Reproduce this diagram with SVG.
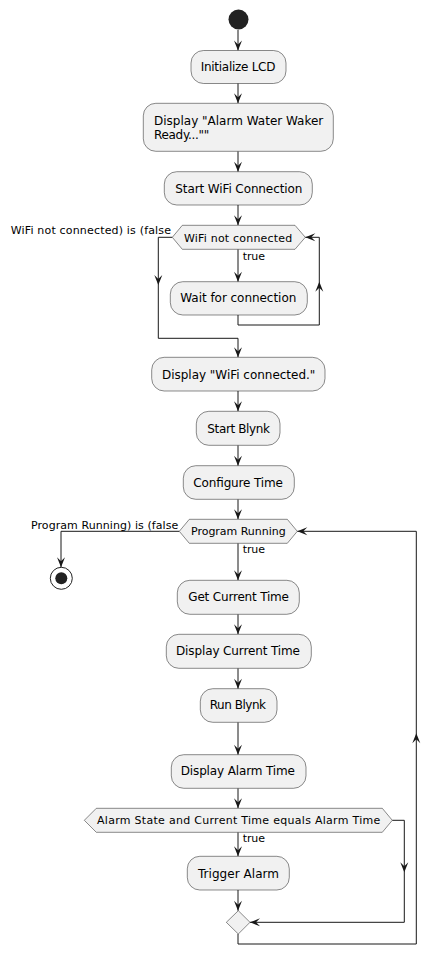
<svg xmlns="http://www.w3.org/2000/svg" xmlns:xlink="http://www.w3.org/1999/xlink" width="441" height="967" viewBox="0 0 441 967">
<style>
.act{fill:#F1F1F1;stroke:#181818;stroke-width:0.5}
.t{font-family:"DejaVu Sans",sans-serif;font-size:12px;fill:#000}
.s{font-family:"DejaVu Sans",sans-serif;font-size:11px;fill:#000}
.ln{fill:none;stroke:#181818;stroke-width:1}
.ah{fill:#181818}
</style>
<defs>
<path id="ah" d="M0,0 L-4,-10 L0,-6 L4,-10 Z"/>
</defs>
<rect width="441" height="967" fill="#FFFFFF"/>
<g id="connectors">
<path class="ln" d="M238,30 V50.5 M238,83 V103.3 M238,151.3 V171.7 M238,205 V225.3 M238,249.3 V281.7"/>
<path class="ln" d="M238,315 V325 H319.3 V237.3 H305.3"/>
<path class="ln" d="M172.3,237.3 H158.3 V338.3 H238 V357.3"/>
<path class="ln" d="M238,391 V411.3 M238,445.3 V465.7 M238,499.3 V519.3 M238,543.3 V580.3"/>
<path class="ln" d="M179.3,531.3 H61 V567.3"/>
<path class="ln" d="M238,614.3 V634.3 M238,668.3 V688.7 M238,722.3 V754.7 M238,788.3 V808.3 M238,832.3 V856.3 M238,890 V910.7"/>
<path class="ln" d="M392.3,820.3 H404.3 V922.3 H250"/>
<path class="ln" d="M238,934 V944 H416.3 V531.3 H297.3"/>
<g class="ah">
<use xlink:href="#ah" transform="translate(238,50.5)"/>
<use xlink:href="#ah" transform="translate(238,103.3)"/>
<use xlink:href="#ah" transform="translate(238,171.7)"/>
<use xlink:href="#ah" transform="translate(238,225.3)"/>
<use xlink:href="#ah" transform="translate(238,281.7)"/>
<use xlink:href="#ah" transform="translate(319.3,281.7) rotate(180)"/>
<use xlink:href="#ah" transform="translate(305.3,237.3) rotate(90)"/>
<use xlink:href="#ah" transform="translate(158.3,285)"/>
<use xlink:href="#ah" transform="translate(238,357.3)"/>
<use xlink:href="#ah" transform="translate(238,411.3)"/>
<use xlink:href="#ah" transform="translate(238,465.7)"/>
<use xlink:href="#ah" transform="translate(238,519.3)"/>
<use xlink:href="#ah" transform="translate(238,580.3)"/>
<use xlink:href="#ah" transform="translate(61,567.3)"/>
<use xlink:href="#ah" transform="translate(238,634.3)"/>
<use xlink:href="#ah" transform="translate(238,688.7)"/>
<use xlink:href="#ah" transform="translate(238,754.7)"/>
<use xlink:href="#ah" transform="translate(238,808.3)"/>
<use xlink:href="#ah" transform="translate(238,856.3)"/>
<use xlink:href="#ah" transform="translate(238,910.7)"/>
<use xlink:href="#ah" transform="translate(404.3,872.3)"/>
<use xlink:href="#ah" transform="translate(250,922.3) rotate(90)"/>
<use xlink:href="#ah" transform="translate(416.3,733.3) rotate(180)"/>
<use xlink:href="#ah" transform="translate(297.3,531.3) rotate(90)"/>
</g>
<text class="s" x="242.7" y="260" textLength="22.3">true</text>
<text class="s" x="10.7" y="234.3" textLength="160.3">WiFi not connected) is (false</text>
<text class="s" x="242.7" y="553.3" textLength="22.3">true</text>
<text class="s" x="31" y="528.7" textLength="147.3">Program Running) is (false</text>
<text class="s" x="242.7" y="841.7" textLength="22.3">true</text>
</g>
<g id="start"><circle cx="238.5" cy="19.5" r="10" fill="#222222"/></g>
<g id="init-lcd"><rect class="act" x="191" y="50.5" width="95" height="33" rx="12.5"/><text class="t" x="200.7" y="71" textLength="74.7">Initialize LCD</text></g>
<g id="display-ready"><rect class="act" x="143.3" y="103.3" width="190" height="48" rx="12.5"/><text class="t" x="154" y="124.7" textLength="169.3">Display "Alarm Water Waker</text><text class="t" x="154" y="139" textLength="55.3">Ready...""</text></g>
<g id="start-wifi"><rect class="act" x="164.3" y="171.7" width="148" height="33.3" rx="12.5"/><text class="t" x="175.3" y="193.3" textLength="127">Start WiFi Connection</text></g>
<g id="while-wifi"><polygon class="act" points="172.3,237.3 182.3,225.3 295,225.3 305.3,237.3 295,249.3 182.3,249.3"/><text class="s" x="184" y="242" textLength="108.3">WiFi not connected</text></g>
<g id="wait-conn"><rect class="act" x="170.3" y="281.7" width="137" height="33.3" rx="12.5"/><text class="t" x="180.3" y="302.3" textLength="116">Wait for connection</text></g>
<g id="display-wifi"><rect class="act" x="151.7" y="357.3" width="173.3" height="33.7" rx="12.5"/><text class="t" x="162" y="379" textLength="153.3">Display "WiFi connected."</text></g>
<g id="start-blynk"><rect class="act" x="196.3" y="411.3" width="83.7" height="34" rx="12.5"/><text class="t" x="207.3" y="433.3" textLength="62.7">Start Blynk</text></g>
<g id="configure-time"><rect class="act" x="183.3" y="465.7" width="111" height="33.6" rx="12.5"/><text class="t" x="193.3" y="487" textLength="89.7">Configure Time</text></g>
<g id="while-running"><polygon class="act" points="179.3,531.3 189.3,519.3 287.3,519.3 297.3,531.3 287.3,543.3 189.3,543.3"/><text class="s" x="191" y="535" textLength="94.7">Program Running</text></g>
<g id="stop"><circle cx="61.3" cy="578.3" r="11" fill="none" stroke="#222222" stroke-width="1"/><circle cx="61.3" cy="578.3" r="6" fill="#222222"/></g>
<g id="get-time"><rect class="act" x="177.3" y="580.3" width="122" height="34" rx="12.5"/><text class="t" x="188.3" y="601" textLength="100.7">Get Current Time</text></g>
<g id="display-time"><rect class="act" x="166.3" y="634.3" width="145" height="34" rx="12.5"/><text class="t" x="176" y="655" textLength="124">Display Current Time</text></g>
<g id="run-blynk"><rect class="act" x="200.3" y="688.7" width="76.7" height="33.6" rx="12.5"/><text class="t" x="209.7" y="708.7" textLength="56.3">Run Blynk</text></g>
<g id="display-alarm"><rect class="act" x="171.3" y="754.7" width="134.7" height="33.6" rx="12.5"/><text class="t" x="180.7" y="775" textLength="114.3">Display Alarm Time</text></g>
<g id="if-alarm"><polygon class="act" points="84.3,820.3 96.3,808.3 382.3,808.3 392.3,820.3 382.3,832.3 96.3,832.3"/><text class="s" x="97" y="824" textLength="283.3">Alarm State and Current Time equals Alarm Time</text></g>
<g id="trigger-alarm"><rect class="act" x="187.3" y="856.3" width="102" height="33.7" rx="12.5"/><text class="t" x="198" y="878.3" textLength="81">Trigger Alarm</text></g>
<g id="merge"><polygon class="act" points="226.3,922.3 238.3,910.7 250,922.3 238.3,934"/></g>
</svg>
